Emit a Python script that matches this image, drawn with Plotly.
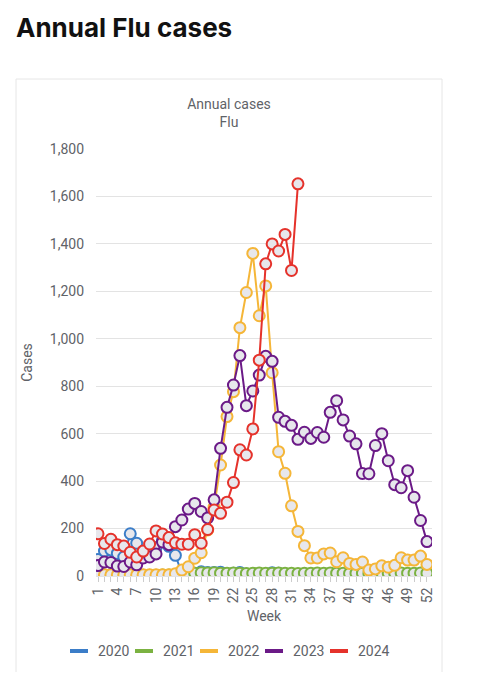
import plotly.graph_objects as go

weeks = list(range(1, 53))

cases_2020 = [70, 105, 110, 95, 80, 178, 138, 100, 115, 120, 150, 125, 87,
              12, 10, 12, 18, 15, 15, 16, 10, 12, 15, 8, 6, 5, 8, 14, 12, 8,
              6, 5, 6, 5, 5, 6, 5, 5, 6, 5, 5, 5, 6, 5, 5, 6, 5, 5, 5, 6, 5, 5]
cases_2021 = [5, 4, 4, 3, 3, 3, 3, 3, 3, 3, 4, 4, 5, 6, 8, 12, 14, 13, 14,
              12, 12, 13, 12, 11, 12, 13, 12, 12, 13, 12, 12, 11, 12, 12, 13,
              12, 13, 12, 12, 11, 12, 12, 11, 12, 13, 12, 12, 13, 12, 12, 13, 12]
cases_2022 = [5, 5, 5, 5, 5, 5, 5, 5, 5, 5, 5, 5, 10, 25, 39, 75, 98, 194,
              290, 468, 672, 777, 1047, 1195, 1360, 1097, 1223, 857, 524, 433,
              296, 188, 128, 76, 76, 93, 97, 60, 77, 53, 49, 59, 25, 30, 43,
              37, 45, 77, 67, 67, 84, 49]
cases_2023 = [44, 59, 57, 42, 40, 59, 47, 76, 80, 93, 143, 132, 208, 236, 282,
              306, 272, 245, 321, 538, 711, 805, 929, 718, 780, 847, 926, 905,
              669, 652, 635, 576, 606, 580, 605, 585, 690, 739, 658, 590, 557,
              432, 431, 550, 600, 486, 385, 372, 444, 332, 234, 145]
cases_2024 = [178, 137, 155, 132, 126, 100, 80, 105, 135, 190, 177, 162, 140,
              134, 134, 174, 138, 196, 278, 264, 311, 394, 532, 510, 620, 910,
              1316, 1400, 1370, 1440, 1288, 1653]

series = [
    ("2020", cases_2020, "#3b7dc8"),
    ("2021", cases_2021, "#7bb241"),
    ("2022", cases_2022, "#f5b638"),
    ("2023", cases_2023, "#6b1a87"),
    ("2024", cases_2024, "#e5322b"),
]

GREY = "#5f6368"
# the page body has an 8px margin, so the figure is drawn 8px in
W, H = 479, 664
PL, PT, PW, PH = 96, 149, 336, 427   # plot box in page pixels


def px(x):
    return (x - PL) / PW


def py(y):
    return (PT + PH - y) / PH


fig = go.Figure()

for name, vals, color in series:
    fig.add_trace(go.Scatter(
        x=weeks[:len(vals)],
        y=vals,
        name=name,
        mode="lines+markers",
        line=dict(color=color, width=2),
        marker=dict(size=11, color="#e7e7ec", line=dict(color=color, width=2)),
        showlegend=False,
    ))

fig.update_layout(
    width=W,
    height=H,
    paper_bgcolor="white",
    plot_bgcolor="white",
    font=dict(family="Roboto", size=14, color=GREY),
    margin=dict(l=PL - 8, r=W - (PL - 8) - PW, t=PT - 8, b=H - (PT - 8) - PH),
    title=dict(
        text="Annual cases<br>Flu",
        x=(229 - 8) / W, xref="container", xanchor="center",
        y=1 - (109 - 8) / H, yref="container", yanchor="top",
        font=dict(size=14, color=GREY),
    ),
    showlegend=False,
)

fig.update_xaxes(
    range=[0.69, 52.78],
    tickmode="linear", tick0=1, dtick=3,
    tickangle=-90,
    showgrid=False,
    zeroline=False,
    ticks="outside", ticklen=5, tickcolor="#cccccc",
    minor=dict(dtick=1, ticks="outside", ticklen=5, tickcolor="#cccccc"),
    tickfont=dict(size=14, color=GREY),
    title=dict(text="Week", font=dict(size=14, color=GREY), standoff=8),
)

fig.update_yaxes(
    range=[0, 1800],
    dtick=200,
    tickformat=",",
    showgrid=True, gridcolor="#e3e3e3", gridwidth=1,
    zeroline=True, zerolinecolor="#e3e3e3", zerolinewidth=1,
    ticklabelstandoff=11,
    tickfont=dict(size=14, color=GREY),
    title=dict(text="Cases", font=dict(size=14, color=GREY), standoff=13),
)

# card border
fig.add_shape(
    type="rect", xref="paper", yref="paper",
    x0=px(16), x1=px(442), y0=py(676), y1=py(79),
    line=dict(color="#e6e6e6", width=1),
    layer="below",
)

# legend: short line + label per year
for i, (name, vals, color) in enumerate(series):
    x0 = 70 + 65 * i
    fig.add_shape(
        type="line", xref="paper", yref="paper",
        x0=px(x0), x1=px(x0 + 18), y0=py(651), y1=py(651),
        line=dict(color=color, width=4),
    )
    fig.add_annotation(
        text=name, xref="paper", yref="paper",
        x=px(x0 + 26), y=py(651), xanchor="left", yanchor="middle",
        showarrow=False, font=dict(size=14, color=GREY),
    )

fig.add_annotation(
    text="<b>Annual Flu cases</b>",
    xref="paper", yref="paper",
    x=px(14), y=py(28),
    xanchor="left", yanchor="middle",
    showarrow=False,
    font=dict(family="Inter", size=26, color="#111111"),
)

fig.write_html("out.html")
